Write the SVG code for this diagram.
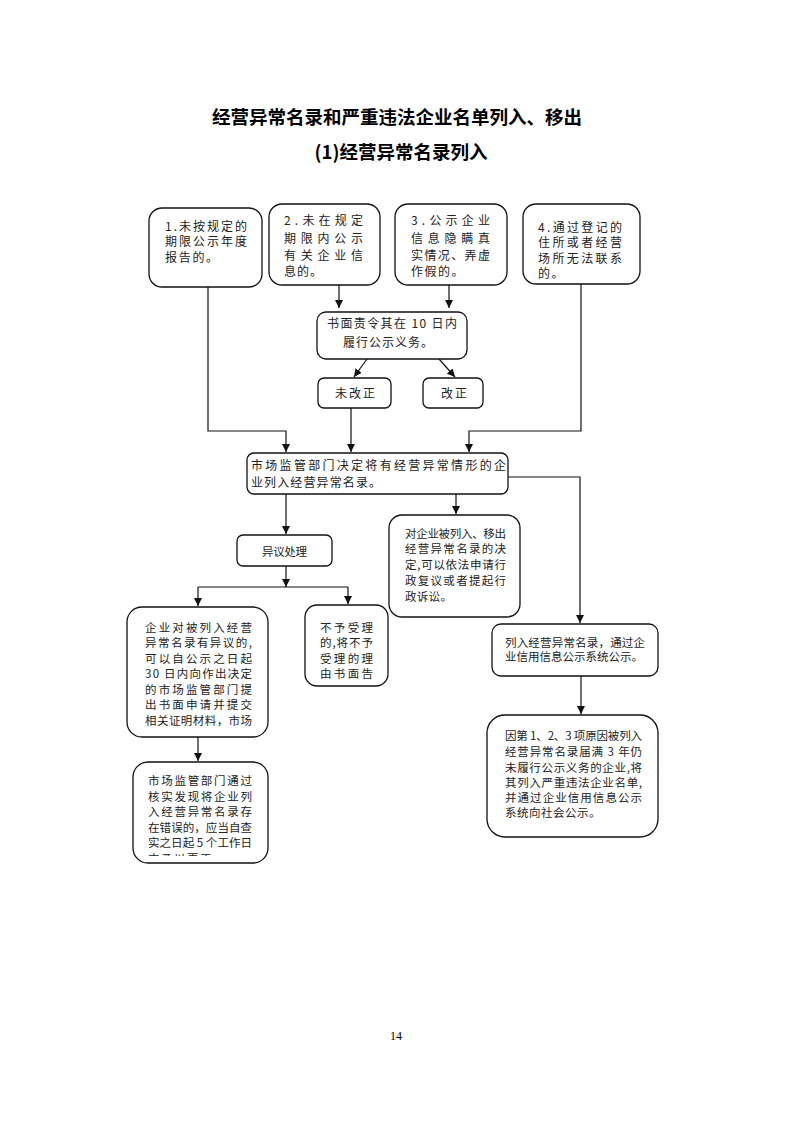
<svg xmlns="http://www.w3.org/2000/svg" width="793" height="1122" viewBox="0 0 793 1122">
<style>
.bg{fill:#ffffff}
.box{fill:#ffffff;stroke:#111;stroke-width:1.3}
.t{font-family:"Noto Sans CJK SC","Noto Sans",sans-serif;font-size:12px;fill:#222}
.s{font-family:"Noto Sans CJK SC","Noto Sans",sans-serif;font-size:11.5px;fill:#222}
.ttl{font-family:"Noto Sans CJK SC","Noto Sans",sans-serif;font-size:18.5px;font-weight:bold;fill:#000}
.pg{font-family:"Liberation Serif",serif;font-size:12px;fill:#000}
.ln{fill:none;stroke:#111;stroke-width:1.2}
</style>
<defs>
<marker id="ah" markerUnits="userSpaceOnUse" markerWidth="9" markerHeight="8" refX="8" refY="4" orient="auto">
<path d="M0,0 L8,4 L0,8 z" fill="#111"/>
</marker>
<clipPath id="clipMS"><rect x="133" y="762" width="135" height="94"/></clipPath>
</defs>
<rect class="bg" x="0" y="0" width="793" height="1122"/>

<g id="title">
<text class="ttl" x="397" y="124" text-anchor="middle">经营异常名录和严重违法企业名单列入、移出</text>
<text class="ttl" x="401" y="159" text-anchor="middle">(1)经营异常名录列入</text>
</g>

<g id="connectors">
<path class="ln" d="M208 287 V431 H286 V452" marker-end="url(#ah)"/>
<path class="ln" d="M339 285 V308" marker-end="url(#ah)"/>
<path class="ln" d="M449 285 V308" marker-end="url(#ah)"/>
<path class="ln" d="M581 284 V431 H469 V452" marker-end="url(#ah)"/>
<path class="ln" d="M367 359 L354 377" marker-end="url(#ah)"/>
<path class="ln" d="M439 359 L455 377" marker-end="url(#ah)"/>
<path class="ln" d="M351 408 V452" marker-end="url(#ah)"/>
<path class="ln" d="M508 477 H580 V623" marker-end="url(#ah)"/>
<path class="ln" d="M456 494 V514" marker-end="url(#ah)"/>
<path class="ln" d="M286 494 V534" marker-end="url(#ah)"/>
<path class="ln" d="M286 566 V587" marker-end="url(#ah)"/>
<path class="ln" d="M198 587 H348"/>
<path class="ln" d="M198 587 V606" marker-end="url(#ah)"/>
<path class="ln" d="M348 587 V604" marker-end="url(#ah)"/>
<path class="ln" d="M198 737 V761" marker-end="url(#ah)"/>
<path class="ln" d="M581 676 V714" marker-end="url(#ah)"/>
</g>

<g id="n1">
<rect class="box" x="149" y="208" width="113" height="79" rx="13"/>
<text class="t" x="165" y="230.5" textLength="82" lengthAdjust="spacing">1.未按规定的</text>
<text class="t" x="165" y="245.5" textLength="82" lengthAdjust="spacing">期限公示年度</text>
<text class="t" x="165" y="261.5" letter-spacing="1.7">报告的。</text>
</g>

<g id="n2">
<rect class="box" x="269" y="204" width="111" height="81" rx="13"/>
<text class="t" x="284" y="224.5" textLength="79" lengthAdjust="spacing">2.未在规定</text>
<text class="t" x="284" y="242.5" textLength="79" lengthAdjust="spacing">期限内公示</text>
<text class="t" x="284" y="259.5" textLength="79" lengthAdjust="spacing">有关企业信</text>
<text class="t" x="284" y="275.5" letter-spacing="1">息的。</text>
</g>

<g id="n3">
<rect class="box" x="395" y="204" width="112" height="81" rx="13"/>
<text class="t" x="411" y="224.5" textLength="79" lengthAdjust="spacing">3.公示企业</text>
<text class="t" x="411" y="242.5" textLength="79" lengthAdjust="spacing">信息隐瞒真</text>
<text class="t" x="411" y="259.5" textLength="79" lengthAdjust="spacing">实情况、弄虚</text>
<text class="t" x="411" y="275.5" letter-spacing="1.5">作假的。</text>
</g>

<g id="n4">
<rect class="box" x="523" y="204" width="117" height="80" rx="13"/>
<text class="t" x="538" y="231.5" textLength="84" lengthAdjust="spacing">4.通过登记的</text>
<text class="t" x="538" y="246.5" textLength="84" lengthAdjust="spacing">住所或者经营</text>
<text class="t" x="538" y="262.5" textLength="84" lengthAdjust="spacing">场所无法联系</text>
<text class="t" x="538" y="277.5" letter-spacing="1.5">的。</text>
</g>

<g id="n5">
<rect class="box" x="317" y="312" width="150" height="47" rx="9"/>
<text class="t" x="327" y="327.5" textLength="130" lengthAdjust="spacing">书面责令其在 10 日内</text>
<text class="t" x="343" y="346.5" textLength="90" lengthAdjust="spacing">履行公示义务。</text>
</g>

<g id="n6">
<rect class="box" x="318" y="378" width="73" height="30" rx="6"/>
<text class="t" x="335" y="397.5" textLength="40" lengthAdjust="spacing">未改正</text>
</g>

<g id="n7">
<rect class="box" x="423" y="378" width="60" height="30" rx="6"/>
<text class="t" x="441" y="397.5" textLength="26" lengthAdjust="spacing">改正</text>
</g>

<g id="n8">
<rect class="box" x="247" y="453" width="261" height="41" rx="7"/>
<text class="t" x="251" y="469.5" textLength="255" lengthAdjust="spacing">市场监管部门决定将有经营异常情形的企</text>
<text class="t" x="251" y="486.5" textLength="130" lengthAdjust="spacing">业列入经营异常名录。</text>
</g>

<g id="n9">
<rect class="box" x="237" y="535" width="95" height="31" rx="6"/>
<text class="s" x="262" y="556" textLength="45" lengthAdjust="spacing">异议处理</text>
</g>

<g id="n10">
<rect class="box" x="389" y="515" width="131" height="102" rx="13"/>
<text class="s" x="405" y="537.5" textLength="101" lengthAdjust="spacing">对企业被列入、移出</text>
<text class="s" x="405" y="552.5" textLength="101" lengthAdjust="spacing">经营异常名录的决</text>
<text class="s" x="405" y="568.5" textLength="101" lengthAdjust="spacing">定,可以依法申请行</text>
<text class="s" x="405" y="584.5" textLength="101" lengthAdjust="spacing">政复议或者提起行</text>
<text class="s" x="405" y="600.5" letter-spacing="0.3">政诉讼。</text>
</g>

<g id="n11">
<rect class="box" x="127" y="607" width="141" height="130" rx="15"/>
<text class="s" x="145" y="631.5" textLength="107" lengthAdjust="spacing">企业对被列入经营</text>
<text class="s" x="145" y="647" textLength="107" lengthAdjust="spacing">异常名录有异议的,</text>
<text class="s" x="145" y="662.5" textLength="107" lengthAdjust="spacing">可以自公示之日起</text>
<text class="s" x="145" y="678" textLength="107" lengthAdjust="spacing">30 日内向作出决定</text>
<text class="s" x="145" y="693.5" textLength="107" lengthAdjust="spacing">的市场监管部门提</text>
<text class="s" x="145" y="709" textLength="107" lengthAdjust="spacing">出书面申请并提交</text>
<text class="s" x="145" y="724.5" textLength="107" lengthAdjust="spacing">相关证明材料，市场</text>
</g>

<g id="n12">
<rect class="box" x="305" y="605" width="83" height="81" rx="12"/>
<text class="s" x="320" y="631.5" textLength="53" lengthAdjust="spacing">不予受理</text>
<text class="s" x="320" y="647" textLength="53" lengthAdjust="spacing">的,将不予</text>
<text class="s" x="320" y="662.5" textLength="53" lengthAdjust="spacing">受理的理</text>
<text class="s" x="320" y="678" textLength="53" lengthAdjust="spacing">由书面告</text>
</g>

<g id="n13">
<rect class="box" x="133" y="762" width="135" height="101" rx="15"/>
<g clip-path="url(#clipMS)">
<text class="s" x="148" y="784.5" textLength="104" lengthAdjust="spacing">市场监管部门通过</text>
<text class="s" x="148" y="800.5" textLength="104" lengthAdjust="spacing">核实发现将企业列</text>
<text class="s" x="148" y="816" textLength="104" lengthAdjust="spacing">入经营异常名录存</text>
<text class="s" x="148" y="831.5" textLength="104" lengthAdjust="spacing">在错误的，应当自查</text>
<text class="s" x="148" y="847" textLength="104" lengthAdjust="spacing">实之日起 5 个工作日</text>
<text class="s" x="148" y="862.5" letter-spacing="1.5">内予以更正。</text>
</g>
</g>

<g id="n14">
<rect class="box" x="492" y="624" width="166" height="52" rx="9"/>
<text class="s" x="505" y="646.5" textLength="140" lengthAdjust="spacing">列入经营异常名录，通过企</text>
<text class="s" x="505" y="660.5" textLength="138" lengthAdjust="spacing">业信用信息公示系统公示。</text>
</g>

<g id="n15">
<rect class="box" x="487" y="715" width="171" height="122" rx="18"/>
<text class="s" x="505" y="739.5" textLength="137" lengthAdjust="spacing">因第 1、2、3 项原因被列入</text>
<text class="s" x="505" y="756" textLength="137" lengthAdjust="spacing">经营异常名录届满 3 年仍</text>
<text class="s" x="505" y="771.5" textLength="137" lengthAdjust="spacing">未履行公示义务的企业,将</text>
<text class="s" x="505" y="786.5" textLength="137" lengthAdjust="spacing">其列入严重违法企业名单,</text>
<text class="s" x="505" y="801.5" textLength="137" lengthAdjust="spacing">并通过企业信用信息公示</text>
<text class="s" x="505" y="816.5" letter-spacing="0.5">系统向社会公示。</text>
</g>

<g id="page">
<text class="pg" x="396" y="1040" text-anchor="middle">14</text>
</g>
</svg>
